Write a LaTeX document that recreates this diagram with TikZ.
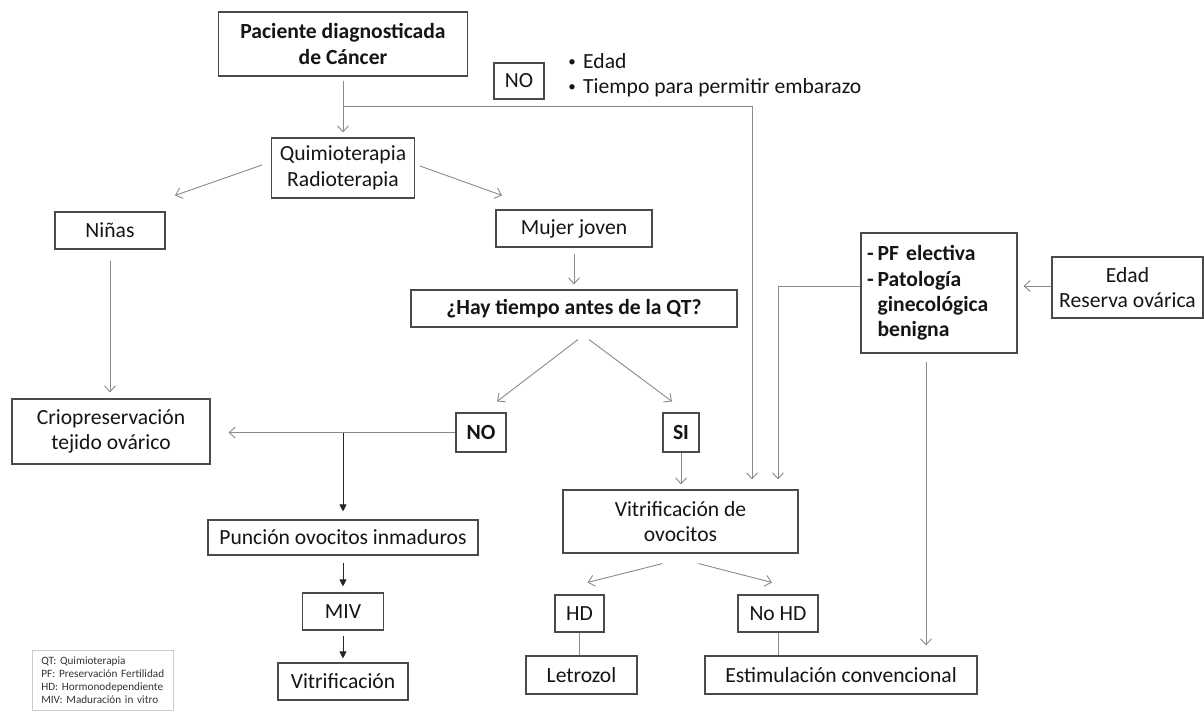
\documentclass[tikz,border=0pt]{standalone}
\usepackage{fontspec}
\setmainfont{Carlito}
\usetikzlibrary{arrows.meta,calc}
\definecolor{linec}{HTML}{8A8A8A}
\definecolor{boxc}{HTML}{4A4A4A}
\definecolor{txtc}{HTML}{151515}
\newcommand{\dashlead}{-\hspace{4pt}}
\newcommand{\smallbul}{\makebox[10pt]{\raisebox{1.8pt}{\fontsize{15}{15}\selectfont\textbullet}}}
\begin{document}
\begin{tikzpicture}[x=1pt,y=-1pt,
  box/.style={draw=boxc, line width=1.1pt, fill=white, align=center, inner sep=0pt,
              text=txtc, font=\fontsize{21.6}{25.5}\selectfont},
  bbox/.style={box, font=\fontsize{21.6}{25.5}\selectfont\bfseries},
  conn/.style={draw=linec, line width=0.9pt, -{Straight Barb[length=6pt,width=11pt]}},
  plain/.style={draw=linec, line width=0.9pt},
  dark/.style={draw=black!85, line width=0.9pt, -{Triangle[length=7pt,width=7pt]}},
]
\useasboundingbox[fill=white] (0,0) rectangle (1204,711);

% --- boxes ---
\node[bbox, minimum width=249pt, minimum height=64pt] (pac) at (343,44) {Paciente diagnosticada\\de Cáncer};
\node[box, minimum width=50pt, minimum height=36pt] (notop) at (519,81) {NO};
\node[anchor=west, align=left, inner sep=0pt, text=txtc, font=\fontsize{21.6}{25}\selectfont] (bul) at (567,75.5)
  {\smallbul\hspace{6pt}Edad\\\smallbul\hspace{6pt}Tiempo para permitir embarazo};
\node[box, minimum width=143pt, minimum height=60pt] (quimio) at (343,168) {Quimioterapia\\Radioterapia};
\node[box, minimum width=110pt, minimum height=37pt] (ninas) at (110,230.5) {Niñas};
\node[box, minimum width=156pt, minimum height=37pt] (mujer) at (574,228.5) {Mujer joven};
\node[bbox, minimum width=326pt, minimum height=37pt] (hay) at (574,308.5) {¿Hay tiempo antes de la QT?};
\node[box, minimum width=198pt, minimum height=65pt] (crio) at (111,431.5) {Criopreservación\\tejido ovárico};
\node[bbox, minimum width=50pt, minimum height=39pt] (no2) at (481,432.5) {NO};
\node[bbox, minimum width=36pt, minimum height=39pt] (si) at (681,432.5) {SI};
\node[box, minimum width=235pt, minimum height=63pt] (vitov) at (680.5,521.5) {Vitrificación de\\ovocitos};
\node[box, font=\fontsize{21.6}{25.3}\selectfont\bfseries, align=left, text width=144pt, inner xsep=6pt,
      minimum width=156pt, minimum height=120pt] (pf) at (939,293)
  {\dashlead PF electiva\\\dashlead Patología\\\phantom{\dashlead}ginecológica\\\phantom{\dashlead}benigna};
\node[box, minimum width=151pt, minimum height=61pt] (edad) at (1127.5,287.5) {Edad\\Reserva ovárica};
\node[box, minimum width=270pt, minimum height=35pt] (puncion) at (343,537.5) {Punción ovocitos inmaduros};
\node[box, minimum width=81pt, minimum height=37pt] (miv) at (343,611.5) {MIV};
\node[box, minimum width=130pt, minimum height=37pt] (vitri) at (343,681.5) {Vitrificación};
\node[box, minimum width=49pt, minimum height=37pt] (hd) at (579.5,613.5) {HD};
\node[box, minimum width=80pt, minimum height=37pt] (nohd) at (778,613.5) {No HD};
\node[box, minimum width=111pt, minimum height=38pt] (letrozol) at (581.5,675) {Letrozol};
\node[box, minimum width=272pt, minimum height=38pt] (estim) at (841,675) {Estimulación convencional};

% --- abbreviations ---
\node[draw=gray!40, line width=0.7pt, anchor=north west, align=left, inner xsep=9pt, inner ysep=0pt,
      text width=123pt, minimum width=141pt, minimum height=60pt, text=black!80,
      font=\fontsize{11.2}{13}\selectfont] (legend) at (32,650)
  {QT: Quimioterapia\\PF: Preservación Fertilidad\\HD: Hormonodependiente\\MIV: Maduración in vitro};

% --- junctions and corners ---
\coordinate (split) at (343,106);
\coordinate (cornerA) at (752,106);
\coordinate (split2) at (343,432.5);
\coordinate (cornerB) at (778,286);
\coordinate (pfout) at ($(pf.south)+(-13,0)$);

% --- connectors ---
\draw[plain, shorten <=4pt] (pac.south) -- (split);
\draw[conn, shorten >=5pt] (split) -- (split |- quimio.north);
\draw[plain] (split) -- (cornerA);
\draw[conn, shorten >=10pt] (cornerA) -- (cornerA |- vitov.north);

\draw[conn] ($(quimio.west)+(-9,-3)$) -- ($(ninas.north)+(65,-16)$);
\draw[conn] ($(quimio.east)+(5,-2)$) -- ($(mujer.north)+(-72,-14)$);
\draw[conn, shorten <=11pt, shorten >=6pt] (ninas.south) -- (ninas.south |- crio.north);
\draw[conn, shorten <=6pt, shorten >=5pt] (mujer.south) -- (hay.north);
\draw[conn] ($(hay.south)+(4,12)$) -- ($(no2.north)+(16,-11)$);
\draw[conn] ($(hay.south)+(15,12)$) -- ($(si.north)+(-9,-11)$);

\draw[conn, shorten >=18pt] (no2.west) -- (no2.west -| crio.east);
\draw[dark, shorten >=8pt] (split2) -- (split2 |- puncion.north);
\draw[dark, shorten <=7pt, shorten >=6pt] (puncion.south) -- (miv.north);
\draw[dark, shorten <=5pt, shorten >=4pt] (miv.south) -- (vitri.north);

\draw[conn, shorten >=5pt] (si.south) -- (si.south |- vitov.north);
\draw[plain] (pf.west |- cornerB) -- (cornerB);
\draw[conn, shorten >=10pt] (cornerB) -- (cornerB |- vitov.north);
\draw[conn, shorten >=6pt] (edad.west |- cornerB) -- (cornerB -| pf.east);
\draw[conn, shorten <=8pt, shorten >=10pt] (pfout) -- (pfout |- estim.north);

\draw[conn] ($(vitov.south)+(-18,10)$) -- ($(hd.north)+(8,-12)$);
\draw[conn] ($(vitov.south)+(18,10)$) -- ($(nohd.north)+(-6,-12)$);
\draw[plain] (hd.south) -- (hd.south |- letrozol.north);
\draw[plain] (nohd.south) -- (nohd.south |- estim.north);
\end{tikzpicture}
\end{document}
